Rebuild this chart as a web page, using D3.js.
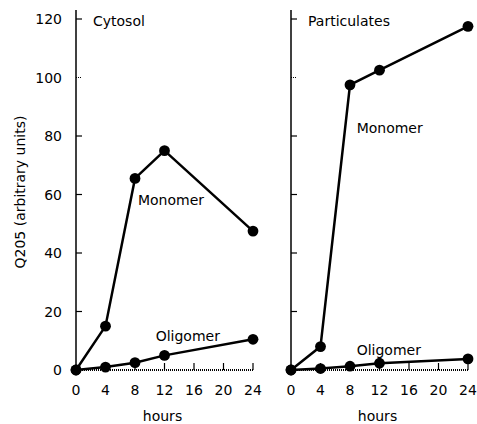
<!DOCTYPE html>
<html>
<head>
<meta charset="utf-8">
<script src="https://cdn.jsdelivr.net/npm/d3@7"></script>
<style>
  body { margin: 0; background: #fff; }
  text { font-family: "DejaVu Sans", Verdana, sans-serif; fill: #000; }
</style>
</head>
<body>
<div id="chart"></div>
<script>
document.addEventListener("DOMContentLoaded", () => {
    const width = 477, height = 424;

    const hours = [0, 4, 8, 12, 24];
    const xTicks = [0, 4, 8, 12, 16, 20, 24];
    const yTicks = [0, 20, 40, 60, 80, 100, 120];

    const cytosolMonomer = [0, 15, 65.5, 75, 47.5];
    const cytosolOligomer = [0, 1, 2.5, 5, 10.5];
    const partMonomer = [0, 8, 97.5, 102.5, 117.5];
    const partOligomer = [0, 0.5, 1.3, 2.3, 3.8];

    const panels = [
        { title: "Cytosol", left: 76, monomer: cytosolMonomer, oligomer: cytosolOligomer,
          monoLabel: [8.4, 56.5], oligoLabel: [10.8, 9.8], showY: true },
        { title: "Particulates", left: 291, monomer: partMonomer, oligomer: partOligomer,
          monoLabel: [8.9, 81], oligoLabel: [8.9, 5], showY: false }
    ];

    const plotW = 177, top = 19, bottom = 370;

    const svg = d3.select("#chart")
        .append("svg")
        .attr("width", width)
        .attr("height", height);

    const y = d3.scaleLinear().domain([0, 120]).range([bottom, top]);

    panels.forEach(p => {
        const x = d3.scaleLinear().domain([0, 24]).range([p.left, p.left + plotW]);
        const g = svg.append("g");

        // y axis line (extends a bit above 120)
        g.append("line")
            .attr("x1", p.left).attr("x2", p.left)
            .attr("y1", top - 9).attr("y2", bottom)
            .attr("stroke", "#000").attr("stroke-width", 1.5);

        // y ticks pointing inward
        g.selectAll(".yt").data(yTicks.filter(d => d > 0)).enter()
            .append("line")
            .attr("x1", p.left).attr("x2", p.left + 6)
            .attr("y1", d => y(d)).attr("y2", d => y(d))
            .attr("stroke", "#000").attr("stroke-width", 1.2)
            .attr("stroke-dasharray", d => d === 100 ? "1,1" : null);

        if (p.showY) {
            g.selectAll(".yl").data(yTicks).enter()
                .append("text")
                .attr("x", p.left - 14)
                .attr("y", d => y(d) + 5)
                .attr("text-anchor", "end")
                .attr("font-size", 14)
                .text(d => d);
        }

        // x axis baseline (dotted)
        g.append("line")
            .attr("x1", p.left).attr("x2", x(24))
            .attr("y1", bottom).attr("y2", bottom)
            .attr("stroke", "#000").attr("stroke-width", 2)
            .attr("stroke-dasharray", "1,1");

        // x ticks pointing upward
        g.selectAll(".xt").data(xTicks.filter(d => d > 0)).enter()
            .append("line")
            .attr("x1", d => x(d)).attr("x2", d => x(d))
            .attr("y1", bottom).attr("y2", bottom - 7)
            .attr("stroke", "#000").attr("stroke-width", 1.2);

        g.selectAll(".xl").data(xTicks).enter()
            .append("text")
            .attr("x", d => x(d))
            .attr("y", bottom + 25)
            .attr("text-anchor", "middle")
            .attr("font-size", 14)
            .text(d => d);

        g.append("text")
            .attr("x", x(12) - 2)
            .attr("y", 421)
            .attr("text-anchor", "middle")
            .attr("font-size", 14)
            .text("hours");

        g.append("text")
            .attr("x", p.left + 17)
            .attr("y", top + 7)
            .attr("font-size", 14)
            .text(p.title);

        const line = d3.line().x((d, i) => x(hours[i])).y(d => y(d));

        [p.monomer, p.oligomer].forEach(series => {
            g.append("path")
                .datum(series)
                .attr("d", line)
                .attr("fill", "none")
                .attr("stroke", "#000")
                .attr("stroke-width", 2.5);

            g.selectAll(null).data(series).enter()
                .append("circle")
                .attr("cx", (d, i) => x(hours[i]))
                .attr("cy", d => y(d))
                .attr("r", 5.4)
                .attr("fill", "#000");
        });

        g.append("text")
            .attr("x", x(p.monoLabel[0]))
            .attr("y", y(p.monoLabel[1]))
            .attr("font-size", 14)
            .text("Monomer");

        g.append("text")
            .attr("x", x(p.oligoLabel[0]))
            .attr("y", y(p.oligoLabel[1]))
            .attr("font-size", 14)
            .text("Oligomer");
    });

    svg.append("text")
        .attr("transform", `translate(25, 192) rotate(-90)`)
        .attr("text-anchor", "middle")
        .attr("font-size", 14)
        .text("Q205 (arbitrary units)");
});
</script>
</body>
</html>
